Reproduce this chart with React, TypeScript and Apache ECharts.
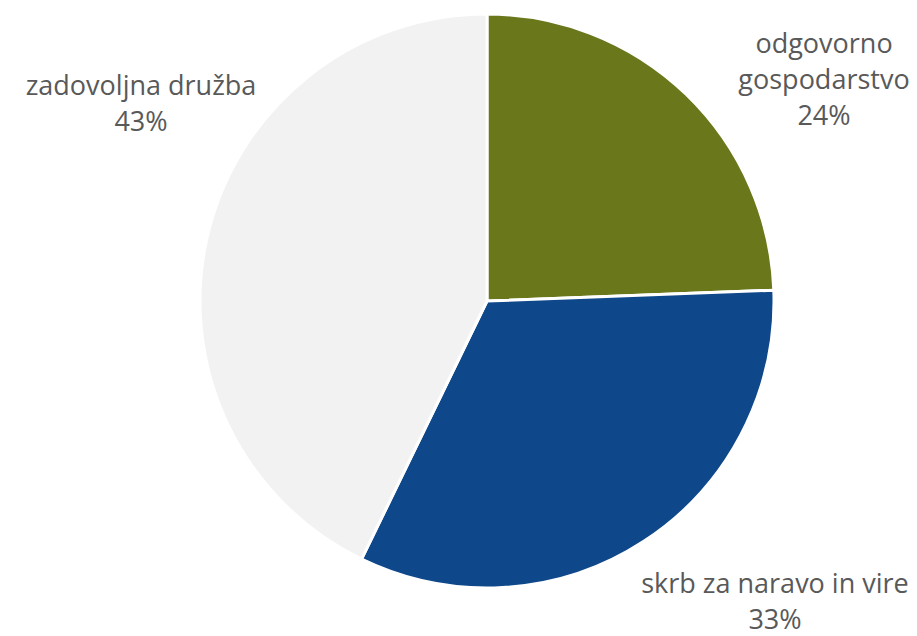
import React, { useEffect, useRef } from "react";
import * as echarts from "echarts";

const categories = ["odgovorno gospodarstvo", "skrb za naravo in vire", "zadovoljna družba"];
const labelLines = ["odgovorno\ngospodarstvo", "skrb za naravo in vire", "zadovoljna družba"];
const values = [24.4, 32.8, 42.8];
const colors = ["#6a771b", "#0e478a", "#f2f2f2"];
const labelPos = [
  [824, 78],
  [775, 600],
  [141, 102],
];

export default function App() {
  const ref = useRef<HTMLDivElement>(null);
  useEffect(() => {
    if (!ref.current) return;
    const chart = echarts.init(ref.current, null, { renderer: "svg" });
    chart.setOption({
      animation: false,
      backgroundColor: "#ffffff",
      series: [
        {
          type: "pie",
          center: [487, 301],
          radius: [0, 287],
          startAngle: 90,
          clockwise: true,
          percentPrecision: 0,
          data: categories.map((name, i) => ({
            name,
            value: values[i],
            itemStyle: { color: colors[i] },
            label: { formatter: labelLines[i] + "\n{d}%" },
          })),
          itemStyle: { borderColor: "#ffffff", borderWidth: 3 },
          label: {
            show: true,
            position: "outside",
            color: "#595959",
            fontFamily: "Open Sans",
            fontSize: 27,
            lineHeight: 36,
            align: "center",
            overflow: "none",
            width: 400,
          },
          labelLine: { show: false },
          labelLayout: (params: any) => {
            const p = labelPos[params.dataIndex];
            return { x: p[0], y: p[1], align: "center", verticalAlign: "middle", hideOverlap: false };
          },
        },
      ],
    });
    return () => chart.dispose();
  }, []);
  return (
    <div
      ref={ref}
      style={{ position: "fixed", left: 0, top: 0, width: 917, height: 636 }}
    />
  );
}
